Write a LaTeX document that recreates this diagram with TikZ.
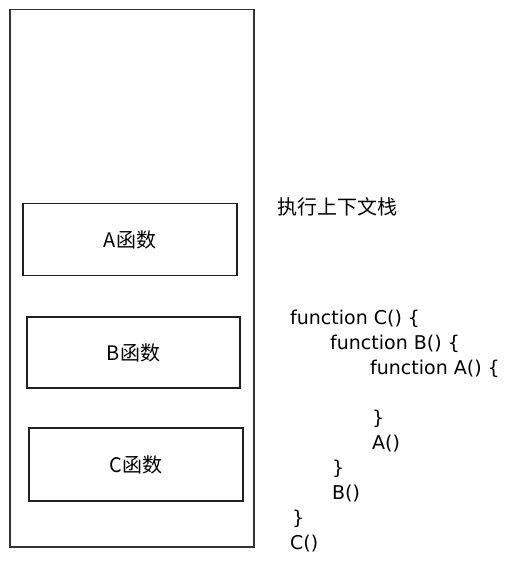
\documentclass[tikz,border=0pt]{standalone}
\usepackage{fontspec}
\setmainfont{DejaVu Sans}
\newfontfamily\cjk{Noto Sans CJK SC}
\begin{document}
\begin{tikzpicture}[x=1pt,y=-1pt,
  frame/.style={draw=black!80,line width=1.5pt},
  stackbox/.style={draw=black!88,line width=1.3pt},
  lbl/.style={font=\cjk\fontsize{20}{24}\selectfont,inner sep=0pt},
  code/.style={font=\fontsize{19}{23}\selectfont,anchor=base west,inner sep=0pt}]
\useasboundingbox (0,0) rectangle (516,567);
\draw[frame] (10,9.5) rectangle (254,547);
\node[stackbox,minimum width=214pt,minimum height=72pt,inner sep=0pt] (A) at (130,239.5) {};
\node[stackbox,minimum width=213pt,minimum height=71pt,inner sep=0pt] (B) at (133.5,352.5) {};
\node[stackbox,minimum width=214pt,minimum height=73pt,inner sep=0pt] (C) at (136,464.5) {};
\node[lbl] (Al) at (A.center) {A函数};
\node[lbl] (Bl) at (B.center) {B函数};
\node[lbl] (Cl) at (C.center) {C函数};
\node[lbl,anchor=west] (title) at (277,207) {执行上下文栈};
\node[code] (l1) at (290,324) {function C() \{};
\node[code] (l2) at (330,349) {function B() \{};
\node[code] (l3) at (370,374) {function A() \{};
\node[code] (l4) at (372,424) {\}};
\node[code] (l5) at (372,449) {A()};
\node[code] (l6) at (332,474) {\}};
\node[code] (l7) at (332,499) {B()};
\node[code] (l8) at (292,524) {\}};
\node[code] (l9) at (290,549) {C()};
\end{tikzpicture}
\end{document}
